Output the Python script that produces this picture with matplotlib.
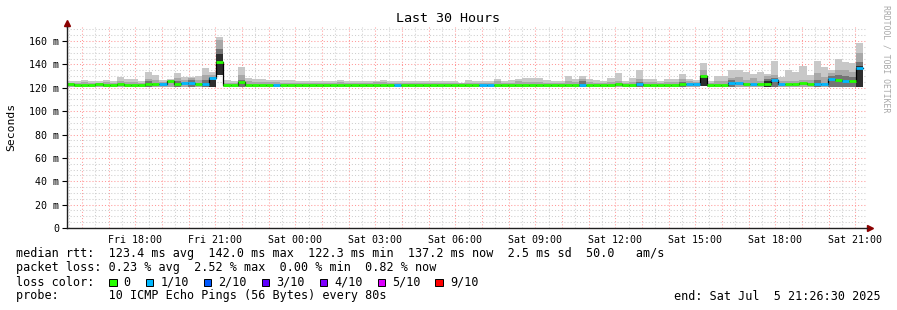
import numpy as np
import matplotlib
matplotlib.use('Agg')
import matplotlib.pyplot as plt
import matplotlib.dates as mdates
from matplotlib.ticker import MultipleLocator, FuncFormatter
from matplotlib.patches import Rectangle
from datetime import datetime, timedelta

start = datetime(2025, 7, 4, 15, 26, 30)
end = datetime(2025, 7, 5, 21, 26, 30)
step_min = 16

# median rtt per 16 min step (ms)
median = [122.8, 122.5, 122.6, 122.4, 122.8, 122.6, 122.5, 122.8, 122.6, 122.7,
          122.4, 122.8, 122.9, 122.8, 125.4, 123.0, 124.0, 124.5, 122.8, 123.5,
          128.3, 142.3, 122.6, 122.6, 125.0, 122.7, 122.6, 122.5, 122.5, 122.4,
          122.5, 122.3, 122.4, 122.3, 122.4, 122.5, 122.4, 122.4, 122.6, 122.4,
          122.5, 122.3, 122.4, 122.6, 122.5, 122.4, 122.4, 122.5, 122.5, 122.4,
          122.4, 122.3, 122.4, 122.3, 122.4, 122.5, 122.6, 122.5, 122.4, 122.4,
          122.7, 122.5, 122.6, 122.4, 122.5, 122.5, 122.4, 122.5, 122.5, 122.4,
          122.6, 122.6, 122.6, 122.5, 122.5, 122.5, 122.6, 122.8, 122.4, 122.6,
          122.9, 122.6, 122.6, 122.5, 122.5, 122.5, 122.8, 122.9, 122.8, 129.8,
          122.5, 122.6, 122.7, 124.5, 124.5, 123.0, 123.5, 123.0, 123.5, 126.3,
          122.8, 122.8, 122.8, 124.5, 123.5, 123.5, 123.0, 127.5, 126.5, 126.0,
          126.0, 137.2]

# lost pings out of 10
loss = [0, 0, 0, 0, 0, 0, 0, 0, 0, 0,
        0, 0, 0, 1, 0, 0, 1, 1, 0, 1,
        1, 0, 0, 0, 0, 0, 0, 0, 0, 1,
        0, 0, 0, 0, 0, 0, 0, 0, 0, 0,
        0, 0, 0, 0, 0, 0, 1, 0, 0, 0,
        0, 0, 0, 0, 0, 0, 0, 0, 1, 1,
        0, 0, 0, 0, 0, 0, 0, 0, 0, 0,
        0, 0, 1, 0, 0, 0, 0, 0, 0, 0,
        1, 0, 0, 0, 0, 0, 0, 1, 1, 0,
        0, 0, 0, 1, 1, 0, 1, 0, 0, 1,
        1, 0, 0, 0, 0, 1, 1, 1, 0, 1,
        0, 1]

# smoke: lowest ping
lo = [120.8] * 20 + [121.0, 130.5] + [120.8] * 67 + [121.5] + [120.8] * 21 + [121.0]

# smoke: highest ping
hi = [125.9, 125.4, 126.8, 125.9, 125.9, 126.6, 125.9, 129.4, 127.5, 127.5,
      125.4, 133.7, 130.9, 126.5, 127.5, 133.0, 129.0, 129.0, 130.3, 136.6,
      133.7, 163.1, 126.8, 125.9, 138.0, 128.0, 127.5, 127.5, 126.8, 126.8,
      126.8, 126.8, 125.9, 125.5, 125.9, 125.5, 125.5, 125.5, 126.8, 125.5,
      125.9, 125.5, 125.5, 125.9, 126.8, 125.5, 125.5, 125.5, 125.9, 125.9,
      125.9, 125.5, 125.5, 125.5, 125.5, 124.5, 126.8, 125.9, 125.9, 125.9,
      127.5, 125.9, 126.8, 127.5, 128.6, 128.6, 128.6, 126.8, 125.9, 125.9,
      130.3, 127.5, 130.3, 127.5, 126.8, 125.9, 128.6, 132.9, 125.9, 128.6,
      135.0, 127.2, 127.2, 125.9, 127.2, 127.2, 131.6, 127.5, 126.8, 141.4,
      125.9, 130.0, 130.0, 135.0, 135.0, 133.2, 131.6, 133.7, 131.6, 143.1,
      128.8, 135.0, 133.2, 138.9, 130.7, 143.1, 138.0, 135.0, 144.8, 142.2,
      141.4, 158.5]

# smoke: inner bands (0 = none)
hi2 = [124.5, 124.3, 124.8, 124.3, 124.5, 125.0, 124.5, 126.0, 125.0, 125.0,
       124.2, 127.5, 126.5, 125.0, 126.0, 128.5, 126.5, 128.5, 127.0, 131.0,
       131.0, 160.5, 124.3, 124.3, 131.0, 125.5, 125.0, 125.0, 124.8, 124.8,
       124.5, 124.5, 124.3, 124.0, 124.3, 124.0, 124.2, 124.0, 125.0, 124.0,
       124.3, 124.0, 124.0, 125.0, 124.8, 124.0, 124.0, 124.0, 124.3, 124.3,
       124.3, 124.0, 124.0, 124.0, 124.0, 123.8, 124.5, 124.3, 124.3, 124.3,
       126.0, 124.3, 124.5, 125.5, 125.0, 125.0, 124.8, 124.5, 124.3, 124.3,
       125.5, 125.0, 127.5, 125.0, 124.5, 124.3, 125.0, 125.5, 124.3, 125.0,
       127.5, 125.0, 125.0, 124.3, 124.8, 124.8, 127.5, 125.5, 124.8, 135.0,
       124.0, 125.5, 125.5, 128.5, 129.0, 126.8, 128.2, 125.5, 130.3, 131.0,
       125.5, 126.0, 126.0, 126.8, 127.0, 132.3, 129.4, 132.3, 135.5, 135.0,
       133.7, 149.4]

hi3 = [0, 0, 0, 0, 0, 0, 0, 0, 0, 0,
       0, 125.5, 0, 0, 0, 126.0, 0, 127.0, 0, 127.0,
       129.5, 153.0, 0, 0, 127.0, 0, 0, 0, 0, 0,
       0, 0, 0, 0, 0, 0, 0, 0, 0, 0,
       0, 0, 0, 0, 0, 0, 0, 0, 0, 0,
       0, 0, 0, 0, 0, 0, 0, 0, 0, 0,
       0, 0, 0, 0, 0, 0, 0, 0, 0, 0,
       0, 0, 125.5, 0, 0, 0, 0, 0, 0, 0,
       125.0, 0, 0, 0, 0, 0, 125.0, 0, 0, 130.5,
       0, 0, 0, 126.5, 0, 0, 0, 0, 127.5, 128.0,
       0, 0, 0, 0, 0, 127.0, 0, 130.4, 131.0, 130.0,
       129.0, 142.2]

hi4 = [0, 0, 0, 0, 0, 0, 0, 0, 0, 0,
       0, 0, 0, 0, 0, 0, 0, 0, 0, 0,
       127.0, 149.0, 0, 0, 0, 0, 0, 0, 0, 0,
       0, 0, 0, 0, 0, 0, 0, 0, 0, 0,
       0, 0, 0, 0, 0, 0, 0, 0, 0, 0,
       0, 0, 0, 0, 0, 0, 0, 0, 0, 0,
       0, 0, 0, 0, 0, 0, 0, 0, 0, 0,
       0, 0, 0, 0, 0, 0, 0, 0, 0, 0,
       0, 0, 0, 0, 0, 0, 0, 0, 0, 129.5,
       0, 0, 0, 0, 0, 0, 0, 0, 125.5, 0,
       0, 0, 0, 0, 0, 0, 0, 0, 0, 0,
       0, 139.0]

loss_colors = ['#26ff00', '#00b8ff', '#0059ff', '#5e00ff', '#7e00ff', '#dd00ff', '#ff0000']
loss_labels = ['0', '1/10', '2/10', '3/10', '4/10', '5/10', '9/10']

stats_line = "median rtt:  123.4 ms avg  142.0 ms max  122.3 ms min  137.2 ms now  2.5 ms sd  50.0   am/s"
loss_line = "packet loss: 0.23 % avg  2.52 % max  0.00 % min  0.82 % now"
probe_line = "probe:       10 ICMP Echo Pings (56 Bytes) every 80s"
end_line = "end: Sat Jul  5 21:26:30 2025"

mono = 'DejaVu Sans Mono'
W, H = 897, 310

fig = plt.figure(figsize=(W / 100, H / 100), dpi=100)
ax = fig.add_axes([67 / W, 1 - 228 / H, 800 / W, 201 / H])

n = len(median)
edges = mdates.date2num([start + timedelta(minutes=step_min * k) for k in range(n + 1)])
med = np.array(median)
lo_a = np.array(lo)


def band(top, color):
    top = np.array(top, dtype=float)
    top = np.where(top > 0, top, lo_a)
    ax.fill_between(edges, np.append(lo_a, lo_a[-1]), np.append(top, top[-1]),
                    step='post', color=color, linewidth=0, zorder=2)


band(hi, '#c8c8c8')
band(hi2, '#a8a8a8')
band(hi3, '#747474')
band(hi4, '#2e2e2e')

ax.step(edges, np.append(med, med[-1]), where='post', color='black', lw=0.9, zorder=3)
ax.hlines(med, edges[:-1], edges[1:], colors=[loss_colors[l] for l in loss],
          linewidth=2.0, zorder=4)

ax.set_xlim(mdates.date2num(start), mdates.date2num(end))
ax.set_ylim(0, 172)

# grid
ax.yaxis.set_major_locator(MultipleLocator(20))
ax.yaxis.set_minor_locator(MultipleLocator(5))
ax.xaxis.set_major_locator(mdates.HourLocator())
ax.xaxis.set_minor_locator(mdates.MinuteLocator(byminute=[30]))


def xfmt(v, pos):
    d = mdates.num2date(v)
    return d.strftime('%a %H:%M') if d.hour % 3 == 0 else ''


ax.xaxis.set_major_formatter(FuncFormatter(xfmt))
ax.yaxis.set_major_formatter(FuncFormatter(lambda v, p: '0' if v == 0 else f'{int(v)} m'))
ax.grid(which='major', color='#ff9a9a', linestyle=(0, (1, 2)), linewidth=0.75)
ax.grid(which='minor', color='#cfcfcf', linestyle=(0, (1, 2)), linewidth=0.75)
ax.set_axisbelow(True)

for s in ['top', 'right']:
    ax.spines[s].set_visible(False)
for s in ['left', 'bottom']:
    ax.spines[s].set_color('#202020')
    ax.spines[s].set_linewidth(1.0)
    ax.spines[s].set_zorder(5)

ax.tick_params(axis='y', which='major', length=3.6, width=0.8, pad=2, labelsize=7.2)
ax.tick_params(axis='x', which='major', length=0, pad=5, labelsize=7.2)
ax.tick_params(which='minor', length=0)
for lab in ax.get_xticklabels() + ax.get_yticklabels():
    lab.set_family(mono)

# axis arrows
ax.plot([0, 0], [1, 1.02], transform=ax.transAxes, color='#202020', lw=1, clip_on=False)
ax.plot([0], [1.022], marker='^', color='#8b0000', markersize=4, transform=ax.transAxes, clip_on=False)
ax.plot([1, 1.003], [0, 0], transform=ax.transAxes, color='#202020', lw=1, clip_on=False)
ax.plot([1.004], [0], marker='>', color='#8b0000', markersize=4, transform=ax.transAxes, clip_on=False)

# texts
fig.text(448 / W, 1 - 19 / H, 'Last 30 Hours', ha='center', va='center', family=mono, fontsize=9.6)
fig.text(11 / W, 1 - 127 / H, 'Seconds', rotation=90, ha='center', va='center', family=mono, fontsize=8.2)
fig.text(886 / W, 1 - 59 / H, 'RRDTOOL / TOBI OETIKER', rotation=-90, ha='center', va='center',
         family=mono, fontsize=5.9, color='#a8a8a8')

cw = 7.11
fs = 8.5
fig.text(16 / W, 1 - 254 / H, stats_line, ha='left', va='center', family=mono, fontsize=fs)
fig.text(16 / W, 1 - 268 / H, loss_line, ha='left', va='center', family=mono, fontsize=fs)
fig.text(16 / W, 1 - 282 / H, 'loss color:', ha='left', va='center', family=mono, fontsize=fs)
fig.text(16 / W, 1 - 296 / H, probe_line, ha='left', va='center', family=mono, fontsize=fs)
fig.text(881 / W, 1 - 296 / H, end_line, ha='right', va='center', family=mono, fontsize=fs)

cur = 13.1
for col, lab in zip(loss_colors, loss_labels):
    bx = 16 + cur * cw
    fig.patches.append(Rectangle((bx / W, 1 - 286 / H), 7.5 / W, 7.5 / H, transform=fig.transFigure,
                                 facecolor=col, edgecolor='black', linewidth=0.7))
    fig.text((bx + 14.5) / W, 1 - 282 / H, lab, ha='left', va='center', family=mono, fontsize=fs)
    cur += 2.05 + len(lab) + 2.1

fig.savefig('out.png', dpi=100)
